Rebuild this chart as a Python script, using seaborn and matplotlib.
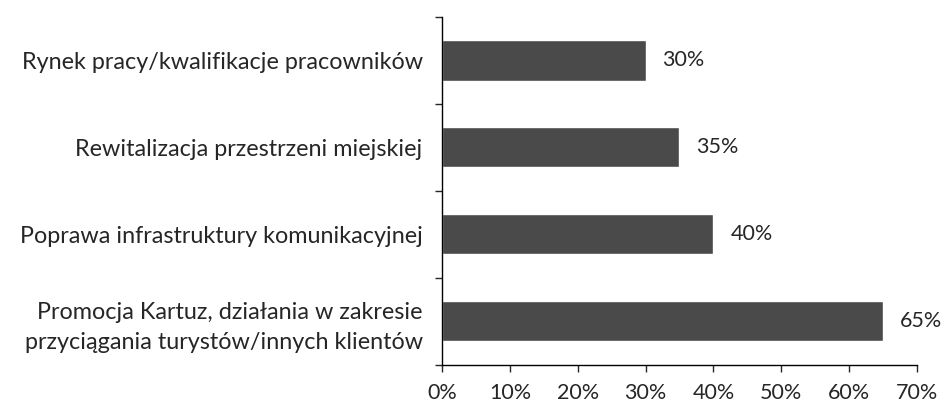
import seaborn as sns
import matplotlib.pyplot as plt
import pandas as pd
from matplotlib.ticker import FuncFormatter, MultipleLocator

kategorie = [
    "Rynek pracy/kwalifikacje pracowników",
    "Rewitalizacja przestrzeni miejskiej",
    "Poprawa infrastruktury komunikacyjnej",
    "Promocja Kartuz, działania w zakresie\nprzyciągania turystów/innych klientów",
]
wartosci = [0.30, 0.35, 0.40, 0.65]

df = pd.DataFrame({"kategoria": kategorie, "wartosc": wartosci})

sns.set_style("white")
plt.rcParams["font.family"] = ["Lato", "DejaVu Sans"]

fig, ax = plt.subplots(figsize=(9.53, 4.05), dpi=100)
fig.subplots_adjust(left=0.464, right=0.962, top=0.958, bottom=0.099)

sns.barplot(data=df, x="wartosc", y="kategoria", color="#4a4a4a",
            width=0.46, ax=ax, saturation=1)

for i, v in enumerate(wartosci):
    ax.text(v + 0.025, i, f"{v:.0%}", va="center", ha="left", fontsize=15.5)

ax.set_xlim(0, 0.70)
ax.set_ylim(3.5, -0.5)
ax.xaxis.set_major_locator(MultipleLocator(0.10))
ax.xaxis.set_major_formatter(FuncFormatter(lambda x, p: f"{x:.0%}"))
ax.set_xlabel("")
ax.set_ylabel("")

ax.set_yticks([-0.5, 0.5, 1.5, 2.5, 3.5], minor=True)
ax.set_yticks(range(len(kategorie)))
ax.set_yticklabels(kategorie, fontsize=16.8, linespacing=1.5)
ax.tick_params(axis="y", which="major", length=0, pad=14)
ax.tick_params(axis="y", which="minor", length=5, width=1, direction="out", left=True)
ax.tick_params(axis="x", length=5, width=1, direction="out", bottom=True,
               labelsize=15.5, pad=8)

for s in ["top", "right"]:
    ax.spines[s].set_visible(False)
for s in ["left", "bottom"]:
    ax.spines[s].set_color("black")
    ax.spines[s].set_linewidth(1)

fig.savefig("out.png", dpi=100)
